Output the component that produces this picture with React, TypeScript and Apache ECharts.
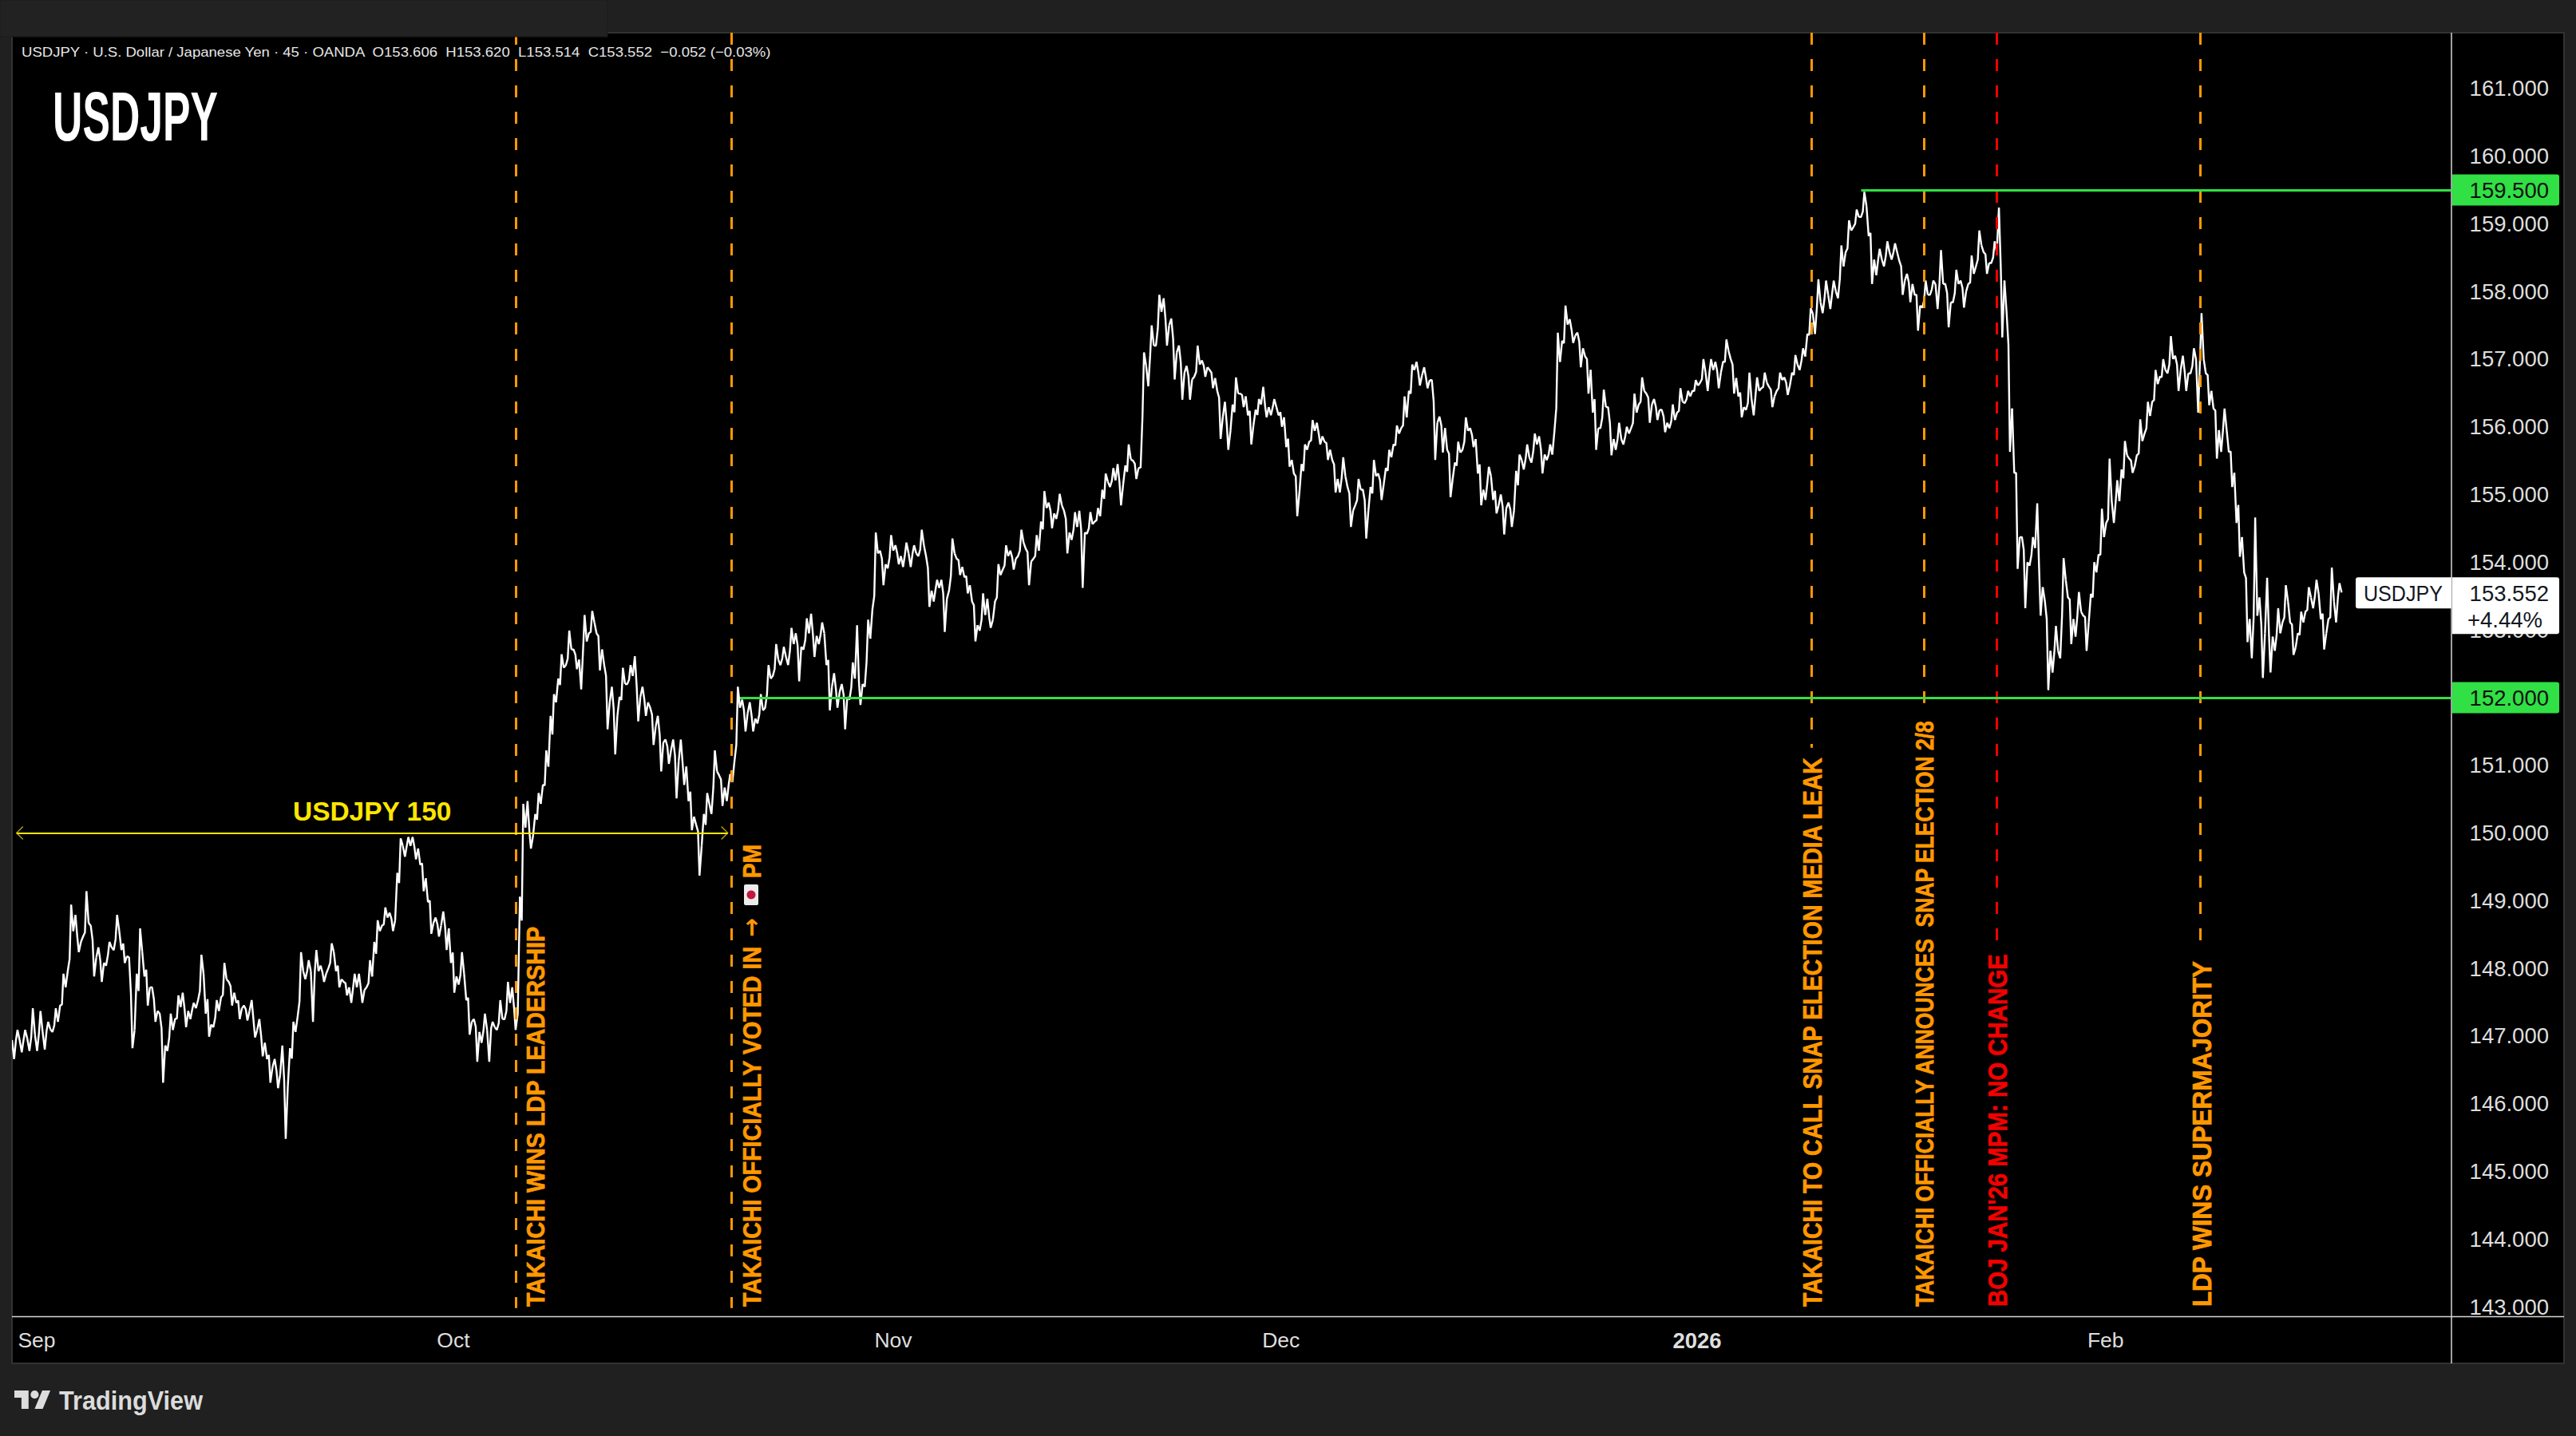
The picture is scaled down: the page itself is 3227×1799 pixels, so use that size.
import React, { useEffect, useRef } from "react";
import * as echarts from "echarts";

const septemberBars = [
  [147.09,146.66,146.94],[147.09,146.76,146.96],[147.41,146.78,147.02],[147.37,146.78,147.06],[147.21,146.80,147.10],
  [147.41,147.06,147.21],[147.92,147.45,147.72],[148.94,147.96,148.55],[148.79,148.24,148.39],
  [149.14,148.47,148.67],[148.63,147.88,148.16],[148.31,147.80,148.08],[148.39,148.04,148.31],[148.79,148.27,148.55],
  [148.27,148.08,148.18],[148.16,146.82,147.09],[148.59,147.92,148.24],[147.88,147.45,147.72],[147.72,147.21,147.37],
  [147.33,146.31,146.86],[147.33,146.78,147.09],[147.60,147.25,147.43],[147.64,147.13,147.37],[147.49,147.25,147.41],
  [148.20,147.53,147.92],[147.33,146.99,147.17],[147.53,147.13,147.37],[148.08,147.57,147.84],[147.80,147.45,147.64],
  [147.49,147.25,147.41],[147.45,147.23,147.37],[147.53,146.98,147.09],[147.25,146.70,146.90],[146.66,146.31,146.54],
  [146.66,146.23,146.43],[146.86,145.48,146.27],[147.21,146.82,147.06],[148.24,147.29,147.96],[148.12,147.84,147.96],
  [148.27,147.21,147.96],[148.04,147.80,147.92],[148.37,148.00,148.24],[147.96,147.72,147.84],[147.80,147.60,147.72],
  [147.92,147.49,147.72],[147.92,147.49,147.68],[148.12,147.72,147.88],[148.71,148.39,148.55],[148.90,148.63,148.75],
  [148.82,148.55,148.71],[149.92,149.41,149.81],[149.94,149.65,149.81],[149.94,149.61,149.77],[149.53,149.14,149.33],
  [148.98,148.51,148.67],[148.75,148.47,148.63],[148.84,148.27,148.59],[148.08,147.64,147.88],[148.24,147.76,147.92],
  [147.53,147.02,147.21],[147.25,146.62,147.06],[147.33,146.90,147.09],[147.21,146.62,147.13],[147.53,147.09,147.25],
  [147.80,147.25,147.49],[147.72,147.09,147.33],
];
const octoberBars = [
  [150.43,149.06,150.08],[150.47,149.77,149.96],[150.59,150.28,150.43],[151.22,150.71,150.98],[152.05,151.73,151.93],
  [152.64,152.28,152.44],[152.99,152.48,152.71],[152.71,152.42,152.56],[153.22,152.12,152.83],[153.28,152.95,153.11],
  [152.95,152.40,152.71],[152.48,151.53,151.93],[152.16,151.16,151.73],[152.44,152.01,152.20],[152.48,152.20,152.32],
  [152.61,151.65,152.01],[152.16,151.73,151.93],[151.85,151.30,151.57],[151.73,150.91,151.34],[151.38,151.02,151.22],
  [151.38,150.51,151.06],[151.38,150.71,150.98],[150.47,150.04,150.24],[150.12,149.37,149.81],[150.59,150.28,150.43],
  [151.22,150.28,150.91],[150.85,150.40,150.67],[150.87,150.47,150.75],[152.16,151.06,151.85],[151.97,151.50,151.77],
  [151.93,151.50,151.69],[152.05,151.62,151.81],[152.48,151.85,152.28],[152.79,152.32,152.56],[152.75,152.48,152.60],
  [153.03,152.48,152.79],[152.95,152.24,152.75],[153.17,152.71,152.95],[153.24,152.60,152.91],[153.11,152.79,152.95],
  [152.48,151.81,152.16],[152.36,151.85,152.08],[152.20,151.53,152.01],[152.52,151.97,152.28],[153.07,151.89,152.20],
  [153.15,152.16,152.87],
];
const novemberBars = [
  [154.44,153.30,154.13],[154.17,153.66,153.97],[154.40,153.91,154.17],[154.25,153.97,154.09],[154.29,153.93,154.13],
  [154.25,153.93,154.13],[154.48,154.09,154.25],[154.09,153.34,153.58],[153.74,153.42,153.62],[153.74,152.97,153.46],
  [154.35,153.58,154.13],[154.05,153.81,153.93],[153.78,153.54,153.66],[153.42,152.83,153.07],[153.54,152.99,153.22],
  [153.46,153.03,153.15],[153.97,153.42,153.81],[154.25,153.89,154.09],[154.17,153.89,154.05],[154.48,154.09,154.29],
  [154.20,153.66,154.01],[154.40,154.05,154.17],[155.05,154.60,154.80],[154.88,154.50,154.72],[155.01,154.64,154.84],
  [154.76,154.13,154.44],[154.74,154.33,154.52],[154.76,153.62,154.44],[154.74,154.42,154.56],[154.80,154.60,154.68],
  [155.31,155.07,155.19],[155.39,155.11,155.21],[155.45,154.84,155.15],[155.74,155.43,155.52],[155.50,155.23,155.39],
  [157.10,155.40,156.90],[157.50,156.60,157.20],[157.95,157.20,157.70],[157.90,157.20,157.50],[157.60,156.70,157.10],
  [157.20,156.40,156.80],[156.90,156.40,156.70],
];
const decemberBars = [
  [157.20,156.74,156.92],[156.98,156.74,156.88],[156.84,156.57,156.72],[156.53,155.82,156.14],[156.37,155.66,155.94],
  [156.73,156.33,156.49],[156.49,156.29,156.45],[156.17,155.74,156.02],[156.41,156.25,156.33],[156.59,156.14,156.29],
  [156.41,156.17,156.29],[156.17,156.00,156.14],[155.70,155.41,155.51],[155.31,154.68,155.03],[155.74,155.45,155.66],
  [156.10,155.78,155.94],[156.06,155.74,155.86],[155.78,155.51,155.66],[155.51,155.03,155.23],[155.55,155.03,155.27],
  [155.11,154.52,154.76],[155.23,154.84,155.07],[155.07,154.35,154.76],[155.51,155.11,155.27],[155.31,154.92,155.15],
  [155.66,155.39,155.55],[156.02,155.74,155.90],[156.45,155.98,156.14],[156.92,156.53,156.84],[156.96,156.61,156.76],
  [156.88,156.57,156.69],[156.69,155.51,156.06],[156.15,155.62,155.98],[155.66,154.96,155.23],[155.78,155.47,155.62],
  [156.14,155.66,155.94],[155.98,155.70,155.82],[155.31,154.84,155.07],[155.41,154.92,155.27],[154.92,154.72,154.84],
  [155.00,154.41,154.80],[154.88,154.52,154.76],[155.59,155.35,155.51],[155.74,155.37,155.55],[155.90,155.47,155.74],
  [155.86,155.31,155.59],[155.74,155.51,155.59],[157.39,155.94,156.96],[157.79,157.27,157.51],[157.59,157.24,157.35],
  [157.39,156.88,157.16],[157.04,156.49,156.84],
];
const yearEndBars = [
  [156.21,155.66,155.98],[156.55,155.98,156.29],[156.29,155.58,155.82],[156.06,155.66,155.82],[156.00,155.74,155.90],
  [156.49,155.98,156.21],[156.73,156.33,156.53],[156.49,156.06,156.33],[156.41,156.10,156.25],[156.25,155.92,156.06],
  [156.33,155.98,156.10],[156.57,156.21,156.37],[156.53,156.35,156.45],[156.69,156.53,156.61],[157.00,156.65,156.80],
  [157.00,156.53,156.84],[156.96,156.57,156.80],[157.29,156.96,157.12],[157.00,156.49,156.72],[156.45,156.14,156.29],
  [156.80,156.25,156.41],[156.73,156.17,156.53],[156.80,156.57,156.65],[156.59,156.29,156.45],[156.80,156.53,156.69],
  [156.73,156.47,156.61],[157.06,156.80,156.92],[157.16,156.84,157.04],[157.75,157.37,157.67],
];
const januaryBars = [
  [158.18,157.37,157.84],[158.16,157.68,157.95],[158.16,157.74,158.00],[158.68,157.90,158.37],[159.05,158.58,158.90],
  [159.21,158.95,159.10],[159.47,159.10,159.26],[158.82,158.11,158.47],[158.63,158.24,158.47],[158.74,158.37,158.58],
  [158.71,158.47,158.58],[158.45,157.95,158.16],[158.26,157.84,158.11],[157.95,157.42,157.79],[158.16,157.76,157.95],
  [158.16,157.95,158.11],[158.61,157.74,158.11],[158.11,157.47,157.84],[158.32,157.84,158.11],[158.16,157.76,158.00],
  [158.53,158.11,158.26],[158.90,158.37,158.68],[158.58,158.26,158.42],[158.74,158.42,158.58],[159.24,157.32,158.16],
  [157.69,155.63,156.27],[155.32,153.90,154.37],[154.37,153.32,154.00],[154.37,153.95,154.21],[154.87,153.21,153.63],
  [153.42,152.11,152.69],[153.06,152.37,152.69],[154.06,152.58,153.74],[153.48,152.79,153.16],[153.56,152.90,153.27],
  [153.21,152.69,153.11],[154.00,153.53,153.85],[154.79,154.11,154.37],[155.53,154.58,154.90],[155.21,154.58,154.90],
];
const februaryBars = [
  [155.79,155.37,155.58],[155.53,155.32,155.42],[156.11,155.58,155.79],[156.37,155.90,156.16],[156.84,156.37,156.63],
  [157.00,156.74,156.84],[157.34,156.79,157.00],[157.05,156.53,156.84],[157.05,156.53,156.79],[157.16,156.79,157.00],
  [157.68,156.21,157.00],[156.79,156.32,156.53],[156.27,155.53,155.95],[156.27,155.63,155.95],[155.63,155.11,155.32],
  [154.58,154.08,154.37],[153.85,152.82,153.16],[154.66,152.58,153.21],[153.48,152.29,152.95],[153.77,152.37,152.90],
  [153.32,152.69,152.95],[153.66,153.11,153.42],[153.11,152.63,152.74],[153.27,152.95,153.11],[153.63,153.27,153.48],
  [153.74,153.32,153.53],[153.16,152.71,152.95],[153.92,153.16,153.42],[153.69,153.11,153.552],
];

const priceTicks = [143,144,145,146,147,148,149,150,151,152,153,154,155,156,157,158,159,160,161];
const monthTicks = [3.23,57.6,115,165.6,219.9,273.2];
const monthLabels = ["Sep","Oct","Nov","Dec","2026","Feb"];
const levelTags = [159.5,152];
const lastChange = "+4.44%";
const symbol = "USDJPY";

const eventNames = [
  "TAKAICHI WINS LDP LEADERSHIP",
  "TAKAICHI OFFICIALLY VOTED IN",
  "TAKAICHI TO CALL SNAP ELECTION MEDIA LEAK",
  "TAKAICHI OFFICIALLY ANNOUNCES  SNAP ELECTION 2/8",
  "BOJ JAN'26 MPM: NO CHANGE",
  "LDP WINS SUPERMAJORITY",
];
const eventBars = [65.73,93.85,234.8,249.55,259.0,285.5];
const eventLineEnds = [142.98,142.98,151.26,151.92,148.41,148.41];
const eventColors = ["#ff9800","#ff9800","#ff9800","#ff9800","#f20000","#ff9800"];
// layout of the rotated captions: x offset from the line, bold size, drawn length
const eventOffsets = [24,26,2,0.5,1.5,2];
const eventLengths = [477,452,690,736,442,434];
const eventSizes = [32,32,33,31,33,34];

const BAR_PX = 9.6;
const GRID = { left: 15, top: 41, width: 3056, height: 1608.5 };
const X_MAX = GRID.width / BAR_PX;
const Y_MAX = 161.822;
const Y_MIN = 142.854;
const SANS = '"Liberation Sans", Arial, sans-serif';

const LOGO = "M14 22H7V11H0V4h14v18zM28 22h-8l7.5-18h8L28 22zM24 8a4 4 0 1 1-8 0 4 4 0 0 1 8 0z";
echarts.graphic.registerShape("tvlogo", echarts.graphic.extendPath(LOGO, {}) as any);

function fit(text: string, font: string, target: number) {
  const ctx = document.createElement("canvas").getContext("2d")!;
  ctx.font = font;
  return target / ctx.measureText(text).width;
}

const allBars = [
  ...septemberBars, ...octoberBars, ...novemberBars, ...decemberBars,
  ...yearEndBars, ...januaryBars, ...februaryBars,
];
const candleData = allBars.map(([h, l, c], i) => [i + 0.5, h, l, i ? allBars[i - 1][2] : c, c]);
const lastPrice = allBars[allBars.length - 1][2];

// each bar's path: open, first extreme, second extreme, close, so that bars join up
function renderCandle(_: any, api: any) {
  const x = api.value(0);
  const high = api.value(1);
  const low = api.value(2);
  const open = api.value(3);
  const close = api.value(4);
  const up = close >= open;
  const path = [
    [x - 0.5, open],
    [x - 0.22, up ? low : high],
    [x + 0.02, open * 0.5 + close * 0.5],
    [x + 0.22, up ? high : low],
    [x + 0.5, close],
  ];
  return {
    type: "polyline",
    shape: { points: path.map((p) => api.coord(p)) },
    style: { stroke: "#ffffff", lineWidth: 2.4, fill: "none", lineJoin: "bevel" },
  };
}

function renderCaption(_: any, api: any) {
  const i = api.value(0);
  const p = api.coord([eventBars[i], 143.0]);
  const text = eventNames[i];
  const font = `bold ${eventSizes[i]}px ${SANS}`;
  return {
    type: "text",
    x: p[0] + eventOffsets[i],
    y: p[1],
    rotation: Math.PI / 2,
    scaleX: fit(text, font, eventLengths[i]),
    style: { text, font, fill: eventColors[i], stroke: eventColors[i], lineWidth: 0.7, align: "left", verticalAlign: "middle" },
  };
}

function renderLevelTag(params: any, api: any) {
  const price = api.value(0);
  const p = api.coord([X_MAX, price]);
  const x = params.coordSys.x + params.coordSys.width + 1;
  return {
    type: "group",
    children: [
      { type: "rect", shape: { x, y: p[1] - 19.5, width: 134, height: 39, r: [0, 3, 3, 0] }, style: { fill: "#30e044" } },
      { type: "text", x: x + 121, y: p[1] + 1, style: { text: price.toFixed(3), font: `27.5px ${SANS}`, fill: "#111111", align: "right", verticalAlign: "middle" } },
    ],
  };
}

function renderLastTag(params: any, api: any) {
  const price = api.value(0);
  const p = api.coord([X_MAX, price]);
  const x = params.coordSys.x + params.coordSys.width;
  const t = p[1] - 19;
  const tagFont = `27.5px ${SANS}`;
  return {
    type: "group",
    children: [
      { type: "rect", shape: { x: x - 120, y: t, width: 120, height: 39, r: [3, 0, 0, 3] }, style: { fill: "#ffffff" } },
      { type: "rect", shape: { x: x + 1, y: t, width: 134, height: 71, r: [0, 3, 3, 0] }, style: { fill: "#ffffff" } },
      { type: "text", x: x - 110, y: t + 20, scaleX: fit(symbol, tagFont, 99), style: { text: symbol, font: tagFont, fill: "#131722", align: "left", verticalAlign: "middle" } },
      { type: "text", x: x + 122, y: t + 20, style: { text: price.toFixed(3), font: tagFont, fill: "#131722", align: "right", verticalAlign: "middle" } },
      { type: "text", x: x + 114, y: t + 53, style: { text: lastChange, font: tagFont, fill: "#131722", align: "right", verticalAlign: "middle" } },
    ],
  };
}

function renderArrowTip(_: any, api: any) {
  const p = api.coord([api.value(0), api.value(1)]);
  const d = api.value(2);
  return {
    type: "polyline",
    shape: { points: [[p[0] + d * 8, p[1] - 8], [p[0], p[1]], [p[0] + d * 8, p[1] + 8]] },
    style: { stroke: "#b3a000", lineWidth: 1.4, fill: "none" },
  };
}

const axisFont = { color: "#dedede", fontFamily: SANS, fontSize: 27.5 };

function buildOption() {
  const header = "USDJPY · U.S. Dollar / Japanese Yen · 45 · OANDA  O153.606  H153.620  L153.514  C153.552  −0.052 (−0.03%)";
  const headerFont = `17px ${SANS}`;
  const titleFont = `bold 87px ${SANS}`;
  const yellowFont = `bold 33px ${SANS}`;
  const tvFont = `bold 33px ${SANS}`;
  const arrowFont = `bold 32px "DejaVu Sans", ${SANS}`;
  const noLabel = { show: false };
  return {
    animation: false,
    backgroundColor: "#202020",
    grid: { ...GRID, containLabel: false },
    xAxis: {
      type: "value", min: 0, max: X_MAX, splitLine: { show: false },
      axisLine: { show: false }, axisTick: { show: false },
      axisLabel: {
        ...axisFont, fontSize: 26.5, margin: 16, hideOverlap: false, showMinLabel: true, showMaxLabel: true,
        customValues: monthTicks,
        formatter: (v: number) => {
          const t = monthLabels[monthTicks.indexOf(v)] ?? "";
          return t === "2026" ? `{b|${t}}` : t;
        },
        rich: { b: { fontWeight: "bold", color: "#dedede", fontFamily: SANS, fontSize: 27.5 } },
      },
    },
    yAxis: {
      type: "value", position: "right", min: Y_MIN, max: Y_MAX, splitLine: { show: false },
      axisLine: { show: false }, axisTick: { show: false },
      axisLabel: {
        ...axisFont, align: "right", margin: 122, customValues: priceTicks, showMinLabel: true, showMaxLabel: true,
        formatter: (v: number) => v.toFixed(3),
      },
    },
    series: [
      {
        type: "line", data: [], z: 1, silent: true,
        markLine: {
          silent: true, symbol: "none", label: noLabel, animation: false,
          data: eventBars.map((x, i) => [
            { coord: [x, Y_MAX], lineStyle: { color: eventColors[i], width: 3, type: [15, 18] } },
            { coord: [x, eventLineEnds[i]] },
          ]),
        },
      },
      { type: "custom", z: 2, silent: true, clip: true, renderItem: renderCandle, encode: { x: 0, y: [1, 2] }, data: candleData },
      {
        type: "line", data: [], z: 3, silent: true,
        markLine: {
          silent: true, symbol: "none", label: noLabel, animation: false,
          data: [
            [{ coord: [241.3, levelTags[0]], lineStyle: { color: "#30e044", width: 3, type: "solid" } }, { coord: [X_MAX, levelTags[0]] }],
            [{ coord: [95, levelTags[1]], lineStyle: { color: "#30e044", width: 3, type: "solid" } }, { coord: [X_MAX, levelTags[1]] }],
            [{ coord: [0.6, 150], lineStyle: { color: "#ffe600", width: 2, type: "solid" } }, { coord: [93.4, 150] }],
          ],
        },
      },
      { type: "custom", z: 3, silent: true, renderItem: renderArrowTip, encode: { x: 0, y: 1 }, data: [[0.6, 150, 1], [93.4, 150, -1]] },
      { type: "custom", z: 4, silent: true, renderItem: renderCaption, data: eventNames.map((_, i) => [i]) },
      { type: "custom", z: 20, silent: true, renderItem: renderLevelTag, data: levelTags.map((v) => [v]) },
      { type: "custom", z: 21, silent: true, renderItem: renderLastTag, data: [[lastPrice]] },
    ],
    graphic: {
      elements: [
        { type: "rect", z: -10, silent: true, shape: { x: 15, y: 41, width: 3197, height: 1667 }, style: { fill: "#000000", stroke: "#323232", lineWidth: 2 } },
        { type: "line", z: 5, silent: true, shape: { x1: 3071, y1: 41, x2: 3071, y2: 1708 }, style: { stroke: "#d8d8d8", lineWidth: 1.5 } },
        { type: "line", z: 5, silent: true, shape: { x1: 15, y1: 1649.5, x2: 3212, y2: 1649.5 }, style: { stroke: "#d8d8d8", lineWidth: 1.5 } },
        { type: "rect", z: 30, silent: true, shape: { x: 0, y: 0, width: 761, height: 46 }, style: { fill: "#222222", stroke: "#1a1a1a", lineWidth: 1 } },
        { type: "text", z: 30, silent: true, x: 27, y: 65, scaleX: fit(header, headerFont, 941), style: { text: header, font: headerFont, fill: "#e6e6e6", align: "left", verticalAlign: "middle" } },
        { type: "text", z: 30, silent: true, x: 66, y: 146, scaleX: fit("USDJPY", titleFont, 207), style: { text: "USDJPY", font: titleFont, fill: "#ffffff", align: "left", verticalAlign: "middle" } },
        { type: "text", z: 30, silent: true, x: 367, y: 1017, scaleX: fit("USDJPY 150", yellowFont, 199), style: { text: "USDJPY 150", font: yellowFont, fill: "#ffe600", align: "left", verticalAlign: "middle" } },
        { type: "text", z: 30, silent: true, x: 941, y: 1174, rotation: Math.PI / 2, scaleX: fit("→", arrowFont, 24), style: { text: "→", font: arrowFont, fill: "#ff9800", align: "left", verticalAlign: "middle" } },
        { type: "rect", z: 30, silent: true, shape: { x: 932, y: 1108, width: 18, height: 26, r: 2 }, style: { fill: "#ececec" } },
        { type: "circle", z: 31, silent: true, shape: { cx: 941, cy: 1121, r: 5.5 }, style: { fill: "#c2183f" } },
        { type: "text", z: 30, silent: true, x: 942, y: 1100, rotation: Math.PI / 2, scaleX: fit("PM", `bold 32px ${SANS}`, 42), style: { text: "PM", font: `bold 32px ${SANS}`, fill: "#ff9800", stroke: "#ff9800", lineWidth: 0.7, align: "left", verticalAlign: "middle" } },
        { type: "tvlogo", z: 30, silent: true, x: 18, y: 1737, scaleX: 1.27, scaleY: 1.27, style: { fill: "#dcdcdc" } },
        { type: "text", z: 30, silent: true, x: 74, y: 1755, scaleX: fit("TradingView", tvFont, 180), style: { text: "TradingView", font: tvFont, fill: "#dcdcdc", align: "left", verticalAlign: "middle" } },
      ],
    },
  };
}

export default function App() {
  const ref = useRef<HTMLDivElement>(null);
  useEffect(() => {
    const chart = echarts.init(ref.current!, undefined, { renderer: "svg" });
    chart.setOption(buildOption() as any);
    return () => chart.dispose();
  }, []);
  return <div ref={ref} style={{ position: "absolute", left: 0, top: 0, width: 3227, height: 1799 }} />;
}
